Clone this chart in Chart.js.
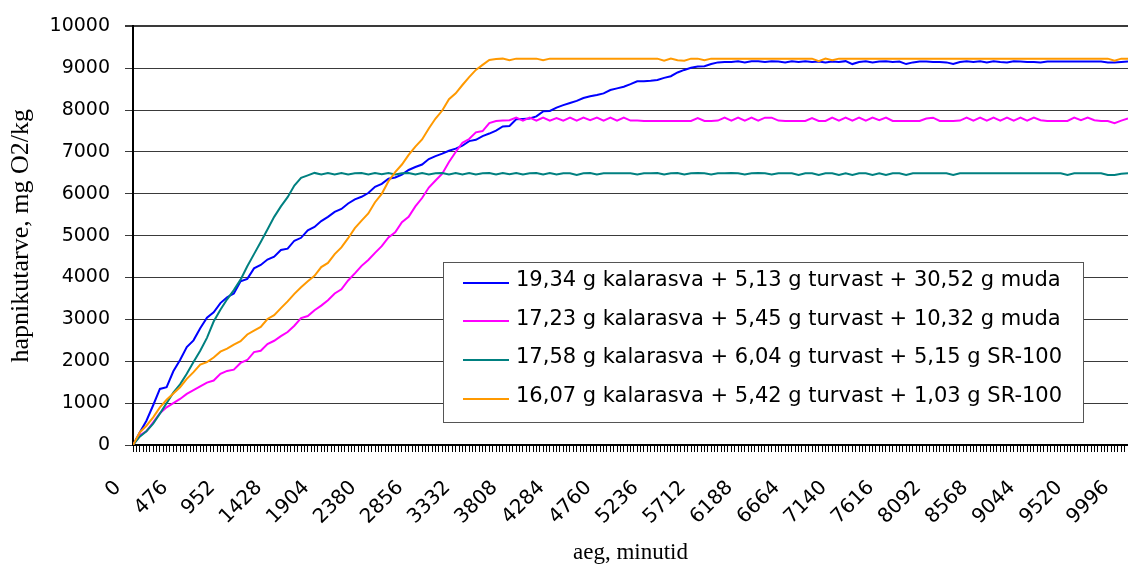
<!DOCTYPE html>
<html>
<head>
<meta charset="utf-8">
<script src="https://cdn.jsdelivr.net/npm/chart.js@4/dist/chart.umd.min.js"></script>
<style>
html,body{margin:0;padding:0;background:#fff;}
canvas{display:block;}
</style>
</head>
<body>
<canvas id="c" width="1128" height="567"></canvas>
<script>
// time axis (minutes)
const minutes = [
0,68,136,204,272,340,408,476,544,612,
680,748,816,884,952,1020,1088,1156,1224,1292,
1360,1428,1496,1564,1632,1700,1768,1836,1904,1972,
2040,2108,2176,2244,2312,2380,2448,2516,2584,2652,
2720,2788,2856,2924,2992,3060,3128,3196,3264,3332,
3400,3468,3536,3604,3672,3740,3808,3876,3944,4012,
4080,4148,4216,4284,4352,4420,4488,4556,4624,4692,
4760,4828,4896,4964,5032,5100,5168,5236,5304,5372,
5440,5508,5576,5644,5712,5780,5848,5916,5984,6052,
6120,6188,6256,6324,6392,6460,6528,6596,6664,6732,
6800,6868,6936,7004,7072,7140,7208,7276,7344,7412,
7480,7548,7616,7684,7752,7820,7888,7956,8024,8092,
8160,8228,8296,8364,8432,8500,8568,8636,8704,8772,
8840,8908,8976,9044,9112,9180,9248,9316,9384,9452,
9520,9588,9656,9724,9792,9860,9928,9996,10064];

const xTickLabels = [0,476,952,1428,1904,2380,2856,3332,3808,4284,4760,5236,5712,6188,6664,7140,7616,8092,8568,9044,9520,9996];
const yTickLabels = [0,1000,2000,3000,4000,5000,6000,7000,8000,9000,10000];

const seriesNames = [
  '19,34 g kalarasva + 5,13 g turvast + 30,52 g muda',
  '17,23 g kalarasva + 5,45 g turvast + 10,32 g muda',
  '17,58 g kalarasva + 6,04 g turvast + 5,15 g SR-100',
  '16,07 g kalarasva + 5,42 g turvast + 1,03 g SR-100'
];

const blueSeries = [
0,300,580,950,1340,1380,1760,2030,2340,2500,
2790,3040,3170,3390,3530,3620,3910,3970,4220,4300,
4430,4500,4660,4690,4880,4950,5130,5210,5350,5450,
5570,5640,5770,5870,5930,6020,6170,6240,6360,6390,
6460,6570,6640,6700,6830,6900,6960,7030,7080,7150,
7260,7290,7380,7440,7510,7610,7620,7780,7790,7800,
7850,7970,7980,8060,8120,8170,8220,8290,8330,8360,
8400,8480,8520,8560,8620,8690,8690,8700,8720,8770,
8810,8900,8960,9010,9040,9050,9100,9140,9150,9150,
9170,9140,9170,9170,9150,9170,9160,9140,9170,9150,
9170,9150,9160,9140,9160,9150,9170,9100,9150,9170,
9140,9160,9170,9150,9160,9100,9140,9160,9160,9150,
9150,9140,9100,9150,9170,9150,9170,9140,9170,9150,
9140,9170,9160,9150,9150,9140,9160,9160,9160,9160,
9160,9160,9160,9160,9160,9140,9140,9150,9160];

const magentaSeries = [
0,230,330,540,760,900,1000,1100,1220,1310,
1400,1490,1540,1700,1770,1800,1960,2030,2220,2250,
2410,2490,2600,2700,2850,3030,3080,3220,3330,3460,
3620,3720,3930,4100,4280,4420,4590,4750,4960,5080,
5320,5450,5700,5900,6150,6320,6480,6760,7000,7220,
7310,7470,7500,7690,7740,7750,7760,7820,7750,7820,
7750,7820,7750,7810,7750,7820,7750,7820,7760,7820,
7750,7820,7750,7820,7750,7750,7740,7740,7740,7740,
7740,7740,7740,7740,7810,7740,7740,7750,7820,7750,
7820,7750,7820,7750,7820,7820,7750,7740,7740,7740,
7740,7810,7740,7740,7820,7750,7820,7750,7820,7750,
7820,7760,7820,7740,7740,7740,7740,7740,7800,7820,
7740,7740,7740,7750,7820,7750,7820,7750,7820,7750,
7820,7750,7820,7750,7820,7760,7740,7740,7740,7740,
7820,7760,7820,7760,7740,7740,7690,7750,7800];

const tealSeries = [
0,200,330,510,750,1000,1250,1450,1700,1980,
2250,2560,2950,3230,3480,3700,3950,4270,4560,4850,
5150,5450,5700,5920,6200,6380,6440,6500,6460,6500,
6460,6500,6460,6490,6500,6460,6500,6470,6500,6460,
6490,6500,6460,6500,6460,6490,6500,6460,6500,6460,
6500,6460,6490,6500,6460,6500,6470,6500,6460,6490,
6500,6460,6500,6460,6490,6490,6450,6490,6500,6460,
6490,6490,6490,6490,6490,6460,6490,6490,6500,6460,
6490,6500,6460,6490,6500,6490,6460,6490,6490,6500,
6490,6460,6490,6500,6490,6460,6490,6490,6490,6450,
6490,6490,6450,6490,6490,6450,6490,6450,6490,6490,
6450,6490,6450,6490,6490,6450,6490,6490,6490,6490,
6490,6490,6450,6490,6490,6490,6490,6490,6490,6490,
6490,6490,6490,6490,6490,6490,6490,6490,6490,6450,
6490,6490,6490,6490,6490,6450,6450,6480,6490];

const orangeSeries = [
0,300,460,660,900,1080,1230,1380,1580,1740,
1920,1980,2090,2230,2300,2400,2480,2640,2730,2820,
3010,3100,3270,3430,3610,3770,3910,4040,4250,4350,
4560,4720,4940,5180,5360,5530,5800,6000,6300,6520,
6700,6930,7130,7300,7560,7800,7990,8260,8400,8600,
8790,8960,9080,9200,9220,9230,9190,9230,9230,9230,
9230,9190,9230,9230,9230,9230,9230,9230,9230,9230,
9230,9230,9230,9230,9230,9230,9230,9230,9230,9180,
9230,9190,9180,9230,9230,9190,9230,9230,9230,9230,
9230,9230,9230,9230,9230,9230,9230,9230,9230,9230,
9230,9230,9170,9230,9190,9230,9230,9230,9230,9230,
9230,9230,9230,9230,9230,9230,9230,9230,9230,9230,
9230,9230,9230,9230,9230,9230,9230,9230,9230,9230,
9230,9230,9230,9230,9230,9230,9230,9230,9230,9230,
9230,9230,9230,9230,9230,9230,9180,9230,9230];

const seriesValues = [blueSeries, magentaSeries, tealSeries, orangeSeries];
const seriesColors = ['#0000FF', '#FF00FF', '#008080', '#FF9900'];

const yAxisTitle = 'hapnikutarve, mg O2/kg';
const xAxisTitle = 'aeg, minutid';

const boxLegend = {
  id: 'boxLegend',
  afterDraw(chart) {
    const ctx = chart.ctx;
    ctx.save();
    const bx = 443, by = 262, bw = 640, bh = 160;
    ctx.fillStyle = '#ffffff';
    ctx.fillRect(bx, by, bw, bh);
    ctx.strokeStyle = '#555555';
    ctx.lineWidth = 1;
    ctx.strokeRect(bx + 0.5, by + 0.5, bw, bh);
    ctx.font = '21px "DejaVu Sans"';
    ctx.textBaseline = 'middle';
    ctx.textAlign = 'left';
    chart.data.datasets.forEach((ds, i) => {
      const y = 280.5 + i * 38.7;
      ctx.strokeStyle = ds.borderColor;
      ctx.lineWidth = 2;
      ctx.beginPath();
      ctx.moveTo(463, Math.round(y + 2));
      ctx.lineTo(509, Math.round(y + 2));
      ctx.stroke();
      ctx.fillStyle = '#000';
      ctx.fillText(ds.label, 516, y);
    });
    ctx.restore();
  }
};

const datasets = seriesValues.map((vals, i) => ({
  label: seriesNames[i],
  data: vals.map((v, j) => ({x: minutes[j], y: v})),
  borderColor: seriesColors[i],
  backgroundColor: seriesColors[i],
  borderWidth: 2,
  pointRadius: 0,
  tension: 0,
  fill: false,
  order: seriesValues.length - i
}));

new Chart(document.getElementById('c'), {
  type: 'line',
  data: { datasets },
  options: {
    responsive: false,
    devicePixelRatio: 1,
    animation: false,
    layout: { padding: { top: 22, right: 0, bottom: 0, left: 0 } },
    plugins: { legend: { display: false }, tooltip: { enabled: false } },
    scales: {
      x: {
        type: 'linear',
        min: 0,
        max: 10064,
        afterFit(s) { s.height = 122; s.paddingLeft = 0; s.paddingRight = 0; },
        ticks: {
          stepSize: 34,
          autoSkip: false,
          minRotation: 45,
          maxRotation: 45,
          labelOffset: -15,
          padding: 24,
          color: '#000',
          font: { family: 'DejaVu Sans', size: 20 },
          callback: (v) => xTickLabels.includes(v) ? String(v) : ''
        },
        grid: { drawOnChartArea: false, drawTicks: true, tickLength: 7, color: '#000', lineWidth: 1 },
        border: { display: true, color: '#000', width: 2 },
        title: { display: true, text: xAxisTitle, color: '#000',
                 font: { family: 'Liberation Serif', size: 23 }, padding: { top: 0, bottom: 0 } }
      },
      y: {
        min: 0,
        max: 10000,
        afterFit(s) { s.width = 133; },
        ticks: { stepSize: 1000, padding: 15, color: '#000', font: { family: 'DejaVu Sans', size: 19 },
                 callback: (v) => yTickLabels.includes(v) ? String(v) : '' },
        grid: { color: '#3a3a3a', lineWidth: (c) => (c.tick && c.tick.value === 10000) ? 2 : 1, tickLength: 8, drawTicks: true },
        border: { display: true, color: '#000', width: 2 },
        title: { display: true, text: yAxisTitle, color: '#000',
                 font: { family: 'Liberation Serif', size: 26 }, padding: { top: 6, bottom: 0 } }
      }
    }
  },
  plugins: [boxLegend]
});
</script>
</body>
</html>
